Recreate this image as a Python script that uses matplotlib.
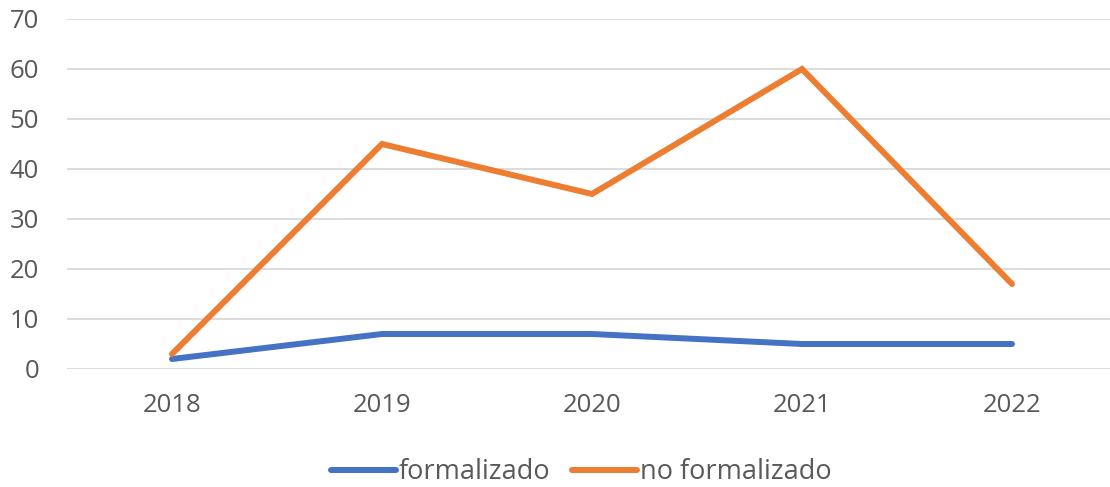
import matplotlib
matplotlib.use("Agg")
import matplotlib.pyplot as plt

years = ["2018", "2019", "2020", "2021", "2022"]
formalizado = [2, 7, 7, 5, 5]
no_formalizado = [3, 45, 35, 60, 17]
yticks = [0, 10, 20, 30, 40, 50, 60, 70]

plt.rcParams['font.family'] = ['Open Sans', 'DejaVu Sans']
fig = plt.figure(figsize=(11.1, 4.87), dpi=100)
ax = fig.add_axes([67/1110, (487-369)/487, (1117-67)/1110, 350/487])

x = list(range(len(years)))
ax.plot(x, formalizado, color="#4472C4", lw=4.3, solid_capstyle="round", label="formalizado", zorder=3)
ax.plot(x, no_formalizado, color="#ED7D31", lw=4.3, solid_capstyle="round", solid_joinstyle="miter", label="no formalizado", zorder=3)

ax.set_xlim(-0.5, len(years) - 0.5)
ax.set_ylim(0, 70)
ax.set_yticks(yticks)
ax.set_xticks(x)
ax.set_xticklabels(years)
ax.grid(axis="y", color="#D9D9D9", lw=1.3)
ax.set_axisbelow(True)
for s in ax.spines.values():
    s.set_visible(False)
ax.tick_params(length=0, labelsize=18.5, colors="#595959")
ax.tick_params(axis="x", pad=17)
ax.tick_params(axis="y", pad=20)

leg = fig.legend(loc="center", bbox_to_anchor=(581/1110, 1 - 472/487), ncol=2, frameon=False,
                 fontsize=19.5, handlelength=2.4, handletextpad=0.1, columnspacing=0.8)
for t in leg.get_texts():
    t.set_color("#595959")

fig.savefig("out.png", dpi=100)
